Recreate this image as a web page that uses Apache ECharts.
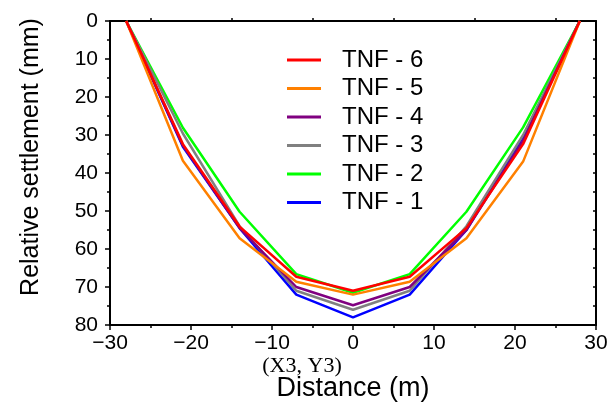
<!DOCTYPE html>
<html>
<head>
<meta charset="utf-8">
<script src="https://cdn.jsdelivr.net/npm/echarts@6/dist/echarts.min.js"></script>
<style>html,body{margin:0;padding:0;background:#fff}#c{width:611px;height:403px}</style>
</head>
<body>
<div id="c"></div>
<script>
var distance = [-28, -21, -14, -7, 0, 7, 14, 21, 28];
var tnf1 = [0, 33.1, 54.5, 72.0, 78.0, 72.0, 55.0, 30.5, 0];
var tnf2 = [0, 28.1, 50.2, 66.6, 71.5, 66.6, 50.2, 28.0, 0];
var tnf3 = [0, 29.6, 54.0, 71.0, 76.0, 71.0, 54.0, 30.0, 0];
var tnf4 = [0, 32.8, 54.5, 70.0, 74.8, 70.0, 55.0, 31.5, 0];
var tnf5 = [0, 36.8, 57.2, 68.6, 72.0, 68.6, 57.2, 37.0, 0];
var tnf6 = [0, 32.4, 54.1, 67.3, 71.0, 67.3, 54.5, 32.4, 0];
var seriesNames = ['TNF - 1', 'TNF - 2', 'TNF - 3', 'TNF - 4', 'TNF - 5', 'TNF - 6'];
var seriesData = [tnf1, tnf2, tnf3, tnf4, tnf5, tnf6];
var colors = ['#0000ff', '#00ff00', '#808080', '#800080', '#ff8000', '#ff0000'];
var legendOrder = ['TNF - 6', 'TNF - 5', 'TNF - 4', 'TNF - 3', 'TNF - 2', 'TNF - 1'];

function pairs(ys) { return distance.map(function (x, i) { return [x, ys[i]]; }); }
function minusFmt(v) { return String(v).replace('-', '\u2212'); }

var chart = echarts.init(document.getElementById('c'), null, {renderer: 'canvas'});
var sans = 'Liberation Sans, Arial, sans-serif';
chart.setOption({
  animation: false,
  backgroundColor: '#fff',
  grid: {left: 110, right: 15, top: 21, bottom: 78},
  legend: {
    orient: 'vertical', left: 287, top: 48, padding: 0, itemWidth: 34, itemHeight: 3, itemGap: 4.5,
    icon: 'rect',
    data: legendOrder,
    textStyle: {fontFamily: sans, fontSize: 24, lineHeight: 24, color: '#000', padding: [0, 0, 0, 16]}
  },
  xAxis: [{
    type: 'value', min: -30, max: 30, interval: 10, position: 'bottom',
    axisLine: {onZero: false, lineStyle: {color: '#000', width: 2}},
    axisTick: {show: true, length: 5, lineStyle: {color: '#000', width: 1.5}},
    minorTick: {show: true, splitNumber: 2, length: 3, lineStyle: {color: '#000', width: 1.5}},
    axisLabel: {fontFamily: sans, color: '#000', fontSize: 21, margin: 8, formatter: minusFmt},
    splitLine: {show: false}
  }, {
    type: 'value', min: -30, max: 30, interval: 10, position: 'top',
    axisLine: {onZero: false, lineStyle: {color: '#000', width: 2}},
    axisTick: {show: false},
    minorTick: {show: true, splitNumber: 2, length: 3, lineStyle: {color: '#000', width: 1.5}},
    axisLabel: {show: false}, splitLine: {show: false}
  }],
  yAxis: [{
    type: 'value', min: 0, max: 80, interval: 10, inverse: true, position: 'left',
    axisLine: {onZero: false, lineStyle: {color: '#000', width: 2}},
    axisTick: {show: true, length: 5, lineStyle: {color: '#000', width: 1.5}},
    minorTick: {show: true, splitNumber: 2, length: 3, lineStyle: {color: '#000', width: 1.5}},
    axisLabel: {fontFamily: sans, color: '#000', fontSize: 21, margin: 12},
    splitLine: {show: false}
  }, {
    type: 'value', min: 0, max: 80, interval: 10, inverse: true, position: 'right',
    axisLine: {onZero: false, lineStyle: {color: '#000', width: 2}},
    axisTick: {show: true, inside: true, length: 3, lineStyle: {color: '#000', width: 1.5}},
    minorTick: {show: true, splitNumber: 2, length: 3, lineStyle: {color: '#000', width: 1.5}},
    axisLabel: {show: false}, splitLine: {show: false}
  }],
  graphic: [{
    type: 'text', x: 302, y: 366,
    style: {text: '(X3, Y3)', fontFamily: 'Liberation Serif, Times New Roman, serif', fontSize: 22, fill: '#000', textAlign: 'center', textVerticalAlign: 'middle'}
  }, {
    type: 'text', x: 353, y: 389,
    style: {text: 'Distance (m)', fontFamily: sans, fontSize: 27, fill: '#000', textAlign: 'center', textVerticalAlign: 'middle'}
  }, {
    type: 'text', x: 31, y: 157, rotation: Math.PI / 2,
    style: {text: 'Relative settlement (mm)', fontFamily: sans, fontSize: 25, fill: '#000', textAlign: 'center', textVerticalAlign: 'middle'}
  }],
  series: seriesNames.map(function (n, i) {
    return {
      name: n, type: 'line', data: pairs(seriesData[i]), symbol: 'none',
      lineStyle: {color: colors[i], width: 2.5}, itemStyle: {color: colors[i]}, z: 2 + i
    };
  })
});
</script>
</body>
</html>
